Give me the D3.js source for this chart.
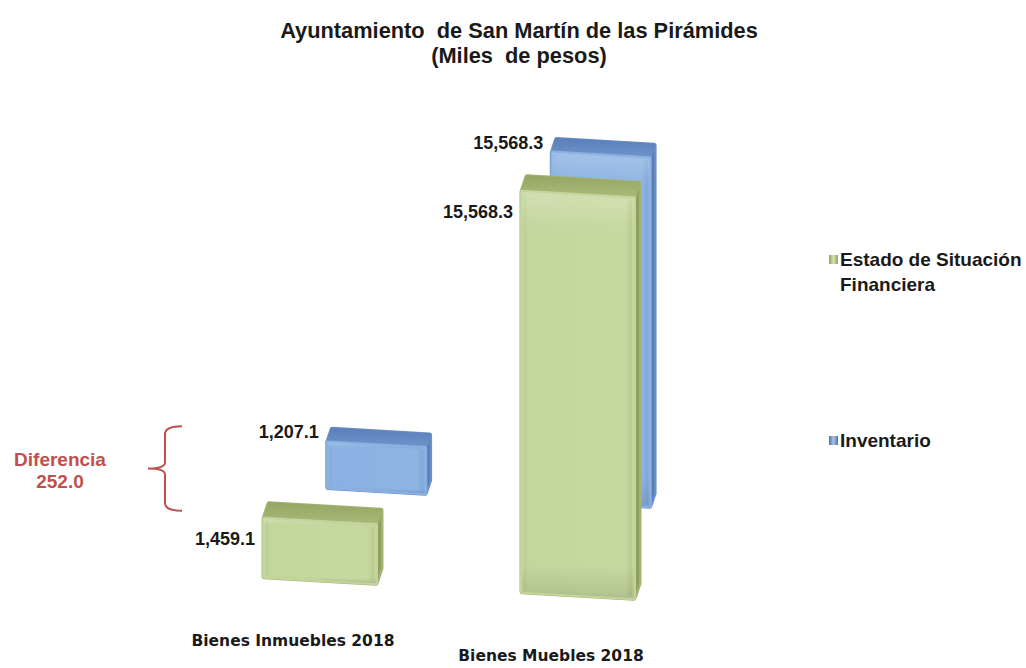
<!DOCTYPE html>
<html>
<head>
<meta charset="utf-8">
<script src="https://cdn.jsdelivr.net/npm/d3@7"></script>
<style>
  body { margin: 0; background: #fff; }
  svg { display: block; }
</style>
</head>
<body>
<div id="chart"></div>
<script>
// data
const categories = ['Bienes Inmuebles 2018', 'Bienes Muebles 2018'];
const seriesLabels = [['Estado de Situación', 'Financiera'], ['Inventario']];
const estadoValues = [1459.1, 15568.3];
const inventarioValues = [1207.1, 15568.3];
const titleLines = ['Ayuntamiento  de San Martín de las Pirámides', '(Miles  de pesos)'];

const width = 1026;
const height = 668;
const fmt = d3.format(',.1f');

const svg = d3.select('#chart')
              .append('svg')
                .attr('width', width)
                .attr('height', height);

const defs = svg.append('defs');

function gradient(id, stops, vertical) {
    const g = defs.append('linearGradient')
                  .attr('id', id)
                  .attr('x1', 0).attr('y1', 0)
                  .attr('x2', vertical ? 0 : 1).attr('y2', vertical ? 1 : 0);
    stops.forEach(s => g.append('stop').attr('offset', s[0]).attr('stop-color', s[1]));
}

// face colours, front / top / side for each series
const palette = [
    {front: 'gFront', top: 'gTop', side: '#8e9f5f', edge: '#c2d59b', hull: '#a2b374'},
    {front: 'bFront', top: 'bTop', side: '#5a7cb3', edge: '#89b0e0', hull: '#6a8ec6'}
];
gradient('gFront', [[0, '#b4c78b'], [0.05, '#c3d69c'], [0.92, '#c6d99f'], [1, '#b3c689']]);
gradient('gTop', [[0, '#96a765'], [1, '#abbc7a']], true);
gradient('bFront', [[0, '#7ea5d7'], [0.05, '#8ab1e1'], [0.92, '#8db4e3'], [1, '#7ca3d5']]);
gradient('bTop', [[0, '#5b80ba'], [1, '#7096cc']], true);
gradient('shadeV', [[0, 'rgba(255,255,255,0.22)'], [0.1, 'rgba(255,255,255,0)'], [0.92, 'rgba(0,0,0,0)'], [1, 'rgba(0,0,0,0.1)']], true);
gradient('legG', [[0, '#8fa45c'], [0.5, '#d4e3b0'], [1, '#8fa45c']]);
gradient('legB', [[0, '#4a72ad'], [0.5, '#a9c4e8'], [1, '#4a72ad']]);

// scales on the front plane
const xScale = d3.scaleBand()
                 .domain(categories)
                 .range([135, 763])
                 .paddingInner(0.566)
                 .paddingOuter(0.5);

// the 3D floor of the original sits a little below the zero line
const yScale = d3.scaleLinear()
                 .domain([-930, d3.max(estadoValues.concat(inventarioValues))])
                 .range([0, 400]);

// floor line is slightly tilted in the picture
const base = x => 580 + (x - 320) * 0.0581;

// perspective: back row shrinks toward a vanishing point
const vp = [755, -110];
const rowScale = [1, 0.87];
const project = (row, p) => [vp[0] + (p[0] - vp[0]) * rowScale[row],
                             vp[1] + (p[1] - vp[1]) * rowScale[row]];

const line = d3.line();

function drawBar(row, cat, value) {
    const x0 = xScale(cat);
    const x1 = x0 + xScale.bandwidth();
    const h = yScale(value);
    const s = rowScale[row];
    const off = [5 * s, -15 * s];
    const bl = project(row, [x0, base(x0)]);
    const br = project(row, [x1, base(x1)]);
    const tr = project(row, [x1, base(x1) - h]);
    const tl = project(row, [x0, base(x0) - h]);
    const back = p => [p[0] + off[0], p[1] + off[1]];
    const c = palette[row];
    const g = svg.append('g');

    const hull = d3.polygonHull([bl, br, tr, tl, back(br), back(tr), back(tl)]);
    g.append('path')
       .attr('d', line(hull) + 'Z')
       .attr('fill', c.hull)
       .attr('stroke', c.hull)
       .attr('stroke-width', 5)
       .attr('stroke-linejoin', 'round');

    g.append('path')
       .attr('d', line([tr, br, back(br), back(tr)]) + 'Z')
       .attr('fill', c.side);

    g.append('path')
       .attr('d', line([tl, tr, back(tr), back(tl)]) + 'Z')
       .attr('fill', `url(#${c.top})`)
       .attr('stroke', `url(#${c.top})`)
       .attr('stroke-width', 3)
       .attr('stroke-linejoin', 'round');

    g.append('path')
       .attr('d', line([tl, tr, br, bl]) + 'Z')
       .attr('fill', `url(#${c.front})`)
       .attr('stroke', c.edge)
       .attr('stroke-width', 4)
       .attr('stroke-linejoin', 'round');

    g.append('path')
       .attr('d', line([tl, tr, br, bl]) + 'Z')
       .attr('fill', 'url(#shadeV)');

    return {tl: tl, top: back(tl)};
}

const labelStyle = sel => sel
    .attr('font-family', 'Liberation Sans, Arial, sans-serif')
    .attr('font-weight', 'bold')
    .attr('font-size', 18)
    .attr('fill', '#1a1a1a');

// back row (Inventario) first, then front row
const blueBars = categories.map((c, i) => drawBar(1, c, inventarioValues[i]));
const greenBars = categories.map((c, i) => drawBar(0, c, estadoValues[i]));

blueBars.forEach((b, i) => {
    svg.append('text')
         .call(labelStyle)
         .attr('x', b.tl[0] - 9)
         .attr('y', b.tl[1] - 4)
         .attr('text-anchor', 'end')
         .text(fmt(inventarioValues[i]));
});
greenBars.forEach((b, i) => {
    svg.append('text')
         .call(labelStyle)
         .attr('x', b.tl[0] - 9)
         .attr('y', b.tl[1] + 26)
         .attr('text-anchor', 'end')
         .text(fmt(estadoValues[i]));
});

// category labels
categories.forEach(c => {
    const cx = xScale(c) + xScale.bandwidth() / 2;
    svg.append('text')
         .attr('x', cx - 27)
         .attr('y', base(cx) + 66)
         .attr('text-anchor', 'middle')
         .attr('font-family', 'DejaVu Sans, Verdana, sans-serif')
         .attr('font-weight', 'bold')
         .attr('font-size', 15.5)
         .attr('fill', '#1a1a1a')
         .text(c);
});

// title
titleLines.forEach((t, i) => {
    svg.append('text')
         .attr('x', 519)
         .attr('y', 38 + i * 25)
         .attr('text-anchor', 'middle')
         .attr('font-family', 'Liberation Sans, Arial, sans-serif')
         .attr('font-weight', 'bold')
         .attr('font-size', 21.8)
         .attr('fill', '#1a1a1a')
         .style('white-space', 'pre')
         .text(t);
});

// legend
const legendY = [266, 447];
const legendFill = ['url(#legG)', 'url(#legB)'];
seriesLabels.forEach((lines, i) => {
    svg.append('rect')
         .attr('x', 829)
         .attr('y', legendY[i] - 11)
         .attr('width', 9)
         .attr('height', 9)
         .attr('fill', legendFill[i]);
    lines.forEach((l, j) => {
        svg.append('text')
             .attr('x', 840)
             .attr('y', legendY[i] + j * 25)
             .attr('font-family', 'Liberation Sans, Arial, sans-serif')
             .attr('font-weight', 'bold')
             .attr('font-size', 19)
             .attr('fill', '#1a1a1a')
             .text(l);
    });
});

// difference annotation between the two small bars
const red = '#c0504d';
const braceTop = blueBars[0].top[1] - 3;
const braceBottom = greenBars[0].top[1] + 7;
const braceMid = (braceTop + braceBottom) / 2;
const bx = 165;
svg.append('path')
     .attr('d', `M182,${braceTop} Q${bx},${braceTop} ${bx},${braceTop + 8}
                 L${bx},${braceMid - 6} Q${bx},${braceMid} 148,${braceMid}
                 Q${bx},${braceMid} ${bx},${braceMid + 6}
                 L${bx},${braceBottom - 8} Q${bx},${braceBottom} 182,${braceBottom}`)
     .attr('fill', 'none')
     .attr('stroke', red)
     .attr('stroke-width', 2);

const diff = estadoValues[0] - inventarioValues[0];
['Diferencia', fmt(diff)].forEach((t, i) => {
    svg.append('text')
         .attr('x', 60)
         .attr('y', braceMid - 3 + i * 22)
         .attr('text-anchor', 'middle')
         .attr('font-family', 'Liberation Sans, Arial, sans-serif')
         .attr('font-weight', 'bold')
         .attr('font-size', 19)
         .attr('fill', red)
         .text(t);
});
</script>
</body>
</html>
